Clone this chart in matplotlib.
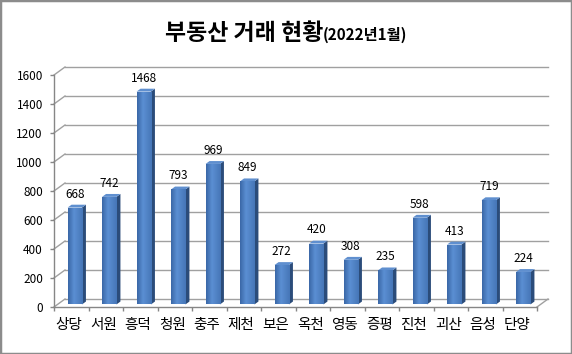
import matplotlib
matplotlib.use("Agg")
import matplotlib.pyplot as plt
import matplotlib.transforms as mtrans
from matplotlib.patches import Polygon, Rectangle
from matplotlib.colors import LinearSegmentedColormap
import numpy as np

plt.rcParams['font.family'] = ['Noto Sans CJK KR', 'DejaVu Sans']

title_main = "부동산 거래 현황"
title_sub = "(2022년1월)"
categories = ["상당", "서원", "흥덕", "청원", "충주", "제천", "보은", "옥천", "영동", "증평", "진천", "괴산", "음성", "단양"]
values = [668, 742, 1468, 793, 969, 849, 272, 420, 308, 235, 598, 413, 719, 224]
yticks = [0, 200, 400, 600, 800, 1000, 1200, 1400, 1600]

W, H = 572, 354
fig = plt.figure(figsize=(W / 100, H / 100), dpi=100)
ax = fig.add_axes([54 / W, 1 - 307 / H, (537 - 54) / W, (307 - 75) / H])
n = len(categories)
ax.set_xlim(-0.5, n - 0.5)
ax.set_ylim(0, 1600)
for s in ax.spines.values():
    s.set_visible(False)

# depth offsets in data units
px_per_cat = (537 - 54) / n
px_per_val = (307 - 75) / 1600
dx = 11 / px_per_cat
dy = 8 / px_per_val

grid_c = '#a0a0a0'
for t in yticks:
    ax.plot([-0.5 + dx, n - 0.5 + dx], [t + dy, t + dy], color=grid_c, lw=1.0, clip_on=False, zorder=1)
    ax.plot([-0.5, -0.5 + dx], [t, t + dy], color=grid_c, lw=1.0, clip_on=False, zorder=1)
ax.plot([n - 0.5, n - 0.5 + dx], [0, dy], color=grid_c, lw=1.0, clip_on=False, zorder=1)
ax.plot([-0.5, n - 0.5], [0, 0], color='#868686', lw=1.0, clip_on=False, zorder=1)
ax.plot([-0.5, -0.5], [0, 1600], color='#868686', lw=1.0, clip_on=False, zorder=1)

# bars
f0 = 0.32
bd = 0.36
w = 14.4 / px_per_cat
side_c = '#2b4c7a'
top_c = '#5f8fcf'
cmap = LinearSegmentedColormap.from_list('barg', [(0, '#3a67a6'), (0.4, '#5b8fd3'), (1, '#4676b7')])
grad = np.linspace(0, 1, 64).reshape(1, -1)
xs = np.arange(n) + f0 * dx
b0 = f0 * dy
bars = ax.bar(xs, values, width=w, bottom=b0, color='#4a7dbd', zorder=3, linewidth=0)
for bar in bars:
    x0, y0 = bar.get_x(), bar.get_y()
    im = ax.imshow(grad, cmap=cmap, aspect='auto', extent=(x0, x0 + bar.get_width(), y0, y0 + bar.get_height()),
                   zorder=3.1, interpolation='bilinear')
    im.set_clip_path(bar)
ax.set_xlim(-0.5, n - 0.5)
ax.set_ylim(0, 1600)
for x, v in zip(xs, values):
    xr = x + w / 2
    xl = x - w / 2
    side = Polygon([(xr, b0), (xr + bd * dx, b0 + bd * dy), (xr + bd * dx, b0 + v + bd * dy), (xr, b0 + v)],
                   closed=True, fc=side_c, ec='none', zorder=3, clip_on=False)
    top = Polygon([(xl, b0 + v), (xr, b0 + v), (xr + bd * dx, b0 + v + bd * dy), (xl + bd * dx, b0 + v + bd * dy)],
                  closed=True, fc=top_c, ec='none', zorder=3, clip_on=False)
    ax.add_patch(side)
    ax.add_patch(top)
    ax.annotate(str(v), (x, b0 + v + bd * dy), xytext=(0, 3), textcoords='offset points',
                ha='center', va='bottom', fontsize=8.5, color='black', annotation_clip=False)

# ticks
ax.set_yticks(yticks)
ax.set_yticklabels([str(t) for t in yticks])
ax.tick_params(axis='y', length=3, width=1, color='#868686', pad=5, labelsize=8.5)
ax.set_xticks(np.arange(n))
ax.set_xticklabels(categories)
ax.tick_params(axis='x', which='major', length=0, pad=8, labelsize=10.5)
ax.set_xticks(np.arange(n + 1) - 0.5, minor=True)
ax.tick_params(axis='x', which='minor', length=3, width=1, color='#868686')
off = mtrans.ScaledTranslation(-2.5 / 100, 0, fig.dpi_scale_trans)
for lbl in ax.get_xticklabels():
    lbl.set_transform(lbl.get_transform() + off)

# title
fig.text(323 / W, 1 - 40 / H, title_main, ha='right', va='baseline', fontsize=16.5, fontweight='bold')
fig.text(323 / W, 1 - 40 / H, title_sub, ha='left', va='baseline', fontsize=11, fontweight='bold')

fig.patches.append(Rectangle((0, 0), 1, 1, transform=fig.transFigure, fill=False, ec='#8c8c8c', lw=2.5))

fig.savefig('out.png', dpi=100, facecolor='white')
